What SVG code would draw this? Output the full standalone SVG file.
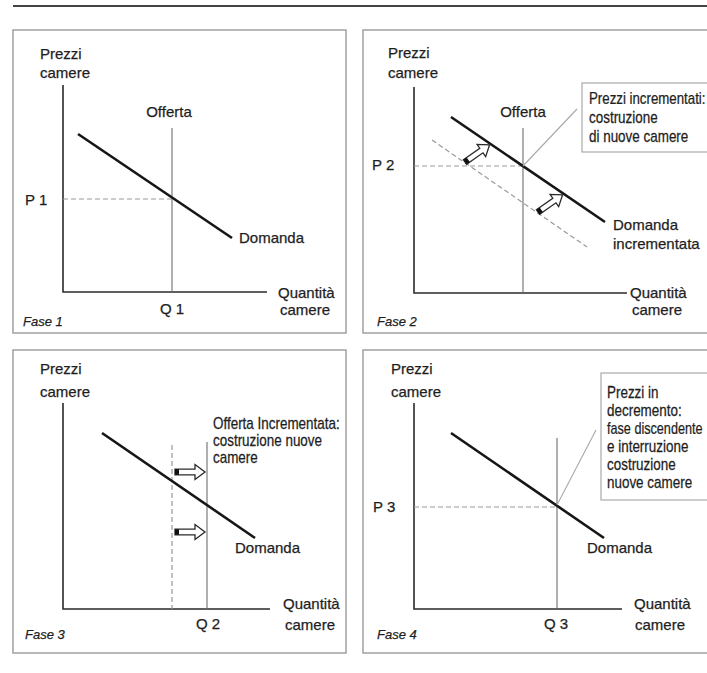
<svg xmlns="http://www.w3.org/2000/svg" width="707" height="673" viewBox="0 0 707 673">
<style>
text{font-family:"Liberation Sans",Arial,sans-serif;fill:#1e1e1e;stroke:#1e1e1e;stroke-width:0.25;font-size:15px}
.bx{font-size:16px}
.fase{font-style:italic;font-size:13px}
.panel{fill:#fff;stroke:#9a9a9a;stroke-width:1.4}
.note{fill:#fff;stroke:#aaa;stroke-width:1.2}
.axis{stroke:#2a2a2a;stroke-width:1.6;fill:none}
.sup{stroke:#6e6e6e;stroke-width:1.1;fill:none}
.dem{stroke:#161616;stroke-width:2.6;fill:none}
.dash{stroke:#9a9a9a;stroke-width:1.2;stroke-dasharray:5 3;fill:none}
.lead{stroke:#a8a8a8;stroke-width:1.1;fill:none}
</style>
<defs>
<g id="harrow">
<path d="M0,-2.8 L20,-2.8 L20,-7.5 L30,0 L20,7.5 L20,2.8 L0,2.8 Z" fill="#fff" stroke="#2a2a2a" stroke-width="1.3" stroke-linejoin="miter"/>
<rect x="0" y="-2.8" width="4" height="5.6" fill="#111"/>
</g>
</defs>
<rect width="707" height="673" fill="#fff"/>
<line x1="13" y1="6" x2="707" y2="6" stroke="#444" stroke-width="2"/>

<g id="fase1">
<rect class="panel" x="13" y="30" width="333" height="303"/>
<text x="40" y="59">Prezzi</text>
<text x="40" y="78">camere</text>
<text x="169" y="117" text-anchor="middle">Offerta</text>
<text x="25" y="205">P 1</text>
<text x="239" y="243">Domanda</text>
<text x="278" y="298">Quantità</text>
<text x="280" y="315">camere</text>
<text x="160" y="314">Q 1</text>
<text class="fase" x="23" y="326">Fase 1</text>
</g>

<g id="fase2">
<rect class="panel" x="363" y="30" width="360" height="303"/>
<text x="388" y="58">Prezzi</text>
<text x="388" y="78">camere</text>
<text x="523" y="117" text-anchor="middle">Offerta</text>
<text x="372" y="170">P 2</text>
<text x="613" y="230">Domanda</text>
<text x="613" y="249">incrementata</text>
<text x="630" y="298">Quantità</text>
<text x="632" y="315">camere</text>
<text class="fase" x="377" y="326">Fase 2</text>
<g id="nota2">
<rect class="note" x="582" y="83" width="140" height="69"/>
<text class="bx" transform="translate(589,104) scale(0.83,1)">Prezzi incrementati:</text>
<text class="bx" transform="translate(589,123) scale(0.84,1)">costruzione</text>
<text class="bx" transform="translate(589,142) scale(0.84,1)">di nuove camere</text>
</g>
</g>

<g id="fase3">
<rect class="panel" x="13" y="350" width="333" height="303"/>
<text x="40" y="374">Prezzi</text>
<text x="40" y="397">camere</text>
<text class="bx" transform="translate(213,429) scale(0.84,1)">Offerta Incrementata:</text>
<text class="bx" transform="translate(213,446) scale(0.84,1)">costruzione nuove</text>
<text class="bx" transform="translate(213,463) scale(0.84,1)">camere</text>
<text x="235" y="553">Domanda</text>
<text x="283" y="609">Quantità</text>
<text x="285" y="630">camere</text>
<text x="196" y="629">Q 2</text>
<text class="fase" x="25" y="639">Fase 3</text>
</g>

<g id="fase4">
<rect class="panel" x="363" y="350" width="360" height="303"/>
<text x="391" y="374">Prezzi</text>
<text x="391" y="397">camere</text>
<text x="373" y="512">P 3</text>
<text x="587" y="553">Domanda</text>
<text x="634" y="609">Quantità</text>
<text x="635" y="630">camere</text>
<text x="544" y="629">Q 3</text>
<text class="fase" x="377" y="639">Fase 4</text>
<g id="nota4">
<rect class="note" x="601" y="373" width="130" height="127"/>
<text class="bx" transform="translate(607,398) scale(0.84,1)">Prezzi in</text>
<text class="bx" transform="translate(607,416) scale(0.84,1)">decremento:</text>
<text class="bx" transform="translate(607,434) scale(0.79,1)">fase discendente</text>
<text class="bx" transform="translate(607,452) scale(0.84,1)">e interruzione</text>
<text class="bx" transform="translate(607,470) scale(0.84,1)">costruzione</text>
<text class="bx" transform="translate(607,488) scale(0.84,1)">nuove camere</text>
</g>
</g>

<g id="connectors">
<!-- fase 1 -->
<path class="axis" d="M63,85 V292 H267"/>
<line class="sup" x1="172" y1="128" x2="172" y2="292"/>
<line class="dash" x1="63" y1="199" x2="172" y2="199"/>
<line class="dem" x1="78" y1="134" x2="232" y2="238"/>
<!-- fase 2 -->
<path class="axis" d="M414,87 V293 H627"/>
<line class="sup" x1="523" y1="128" x2="523" y2="293"/>
<line class="dash" x1="414" y1="166" x2="523" y2="166"/>
<line class="dash" x1="432" y1="140" x2="587" y2="247"/>
<line class="dem" x1="451" y1="117" x2="605" y2="222"/>
<line class="lead" x1="523" y1="166" x2="577" y2="109"/>
<use href="#harrow" transform="translate(465,162) rotate(-35)"/>
<use href="#harrow" transform="translate(538,212) rotate(-35)"/>
<!-- fase 3 -->
<path class="axis" d="M63,403 V609 H270"/>
<line class="dash" x1="172" y1="445" x2="172" y2="609"/>
<line class="sup" x1="207" y1="442" x2="207" y2="609"/>
<line class="dem" x1="102" y1="433" x2="255" y2="538"/>
<use href="#harrow" transform="translate(175,472)"/>
<use href="#harrow" transform="translate(175,532)"/>
<!-- fase 4 -->
<path class="axis" d="M414,403 V609 H622"/>
<line class="sup" x1="557" y1="438" x2="557" y2="609"/>
<line class="dash" x1="414" y1="507" x2="557" y2="507"/>
<line class="dem" x1="451" y1="433" x2="604" y2="538"/>
<line class="lead" x1="557" y1="505" x2="596" y2="430"/>
</g>
</svg>
